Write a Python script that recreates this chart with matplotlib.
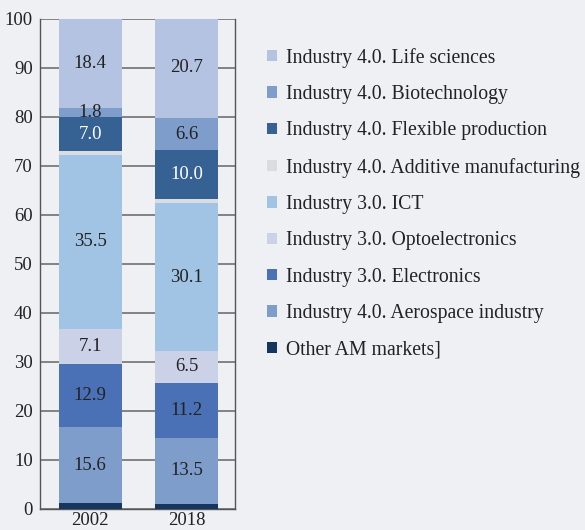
import matplotlib
matplotlib.use("Agg")
import matplotlib.pyplot as plt
from matplotlib.patches import Patch

years = ["2002", "2018"]
# bottom to top
segments = [
    "Other AM markets]",
    "Industry 4.0. Aerospace industry",
    "Industry 3.0. Electronics",
    "Industry 3.0. Optoelectronics",
    "Industry 3.0. ICT",
    "Industry 4.0. Additive manufacturing",
    "Industry 4.0. Flexible production",
    "Industry 4.0. Biotechnology",
    "Industry 4.0. Life sciences",
]
values_2002 = [1.1, 15.6, 12.9, 7.1, 35.5, 0.7, 7.0, 1.8, 18.4]
values_2018 = [1.0, 13.5, 11.2, 6.5, 30.1, 0.8, 10.0, 6.6, 20.7]
labels_2002 = [None, "15.6", "12.9", "7.1", "35.5", None, "7.0", "1.8", "18.4"]
labels_2018 = [None, "13.5", "11.2", "6.5", "30.1", None, "10.0", "6.6", "20.7"]

colors = ["#15365e", "#7e9dcb", "#4a70b6", "#cbd1e7", "#a1c4e5",
          "#dadcdf", "#356193", "#7e9dcb", "#b3c3e1"]
text_colors = ["white", "#222222", "#222222", "#222222", "#222222",
               "#222222", "white", "#222222", "#222222"]

bg = "#eef0f4"
plt.rcParams['font.family'] = ['Liberation Serif', 'DejaVu Serif']

fig = plt.figure(figsize=(5.85, 5.3), dpi=100, facecolor=bg)
ax = fig.add_axes([0.068, 0.040, 0.334, 0.925], facecolor=bg)

data = [values_2002, values_2018]
labs = [labels_2002, labels_2018]
xs = range(len(years))
width = 0.65
for xi, vals, lb in zip(xs, data, labs):
    bottom = 0
    for i, v in enumerate(vals):
        ax.bar(xi, v, width, bottom=bottom, color=colors[i], zorder=3, linewidth=0)
        if lb[i]:
            ax.text(xi, bottom + v / 2, lb[i], ha="center", va="center",
                    fontsize=13.5, color=text_colors[i], zorder=4)
        bottom += v

ax.set_ylim(0, 100)
ax.set_xlim(-0.52, 1.5)
ax.set_yticks(range(0, 101, 10))
ax.set_xticks(list(xs))
ax.set_xticklabels(years)
ax.tick_params(axis="y", length=0, labelsize=13.5, colors="#222222", pad=5)
ax.tick_params(axis="x", length=0, labelsize=13.5, colors="#222222", pad=2)
ax.yaxis.grid(True, color="#707070", linewidth=1.2, zorder=0)
ax.spines["top"].set_visible(False)
for s in ["left", "right", "bottom"]:
    ax.spines[s].set_color("#555555")
    ax.spines[s].set_linewidth(1.0)

handles = [Patch(facecolor=colors[i], edgecolor="none", label=segments[i])
           for i in range(len(segments) - 1, -1, -1)]
fig.legend(handles=handles, loc="upper left", bbox_to_anchor=(0.457, 0.91),
           frameon=False, fontsize=14.2, handlelength=0.5, handleheight=0.5,
           handletextpad=0.45, labelspacing=0.88, labelcolor="#222222",
           borderaxespad=0, borderpad=0)

fig.savefig("out.png", dpi=100, facecolor=bg)
